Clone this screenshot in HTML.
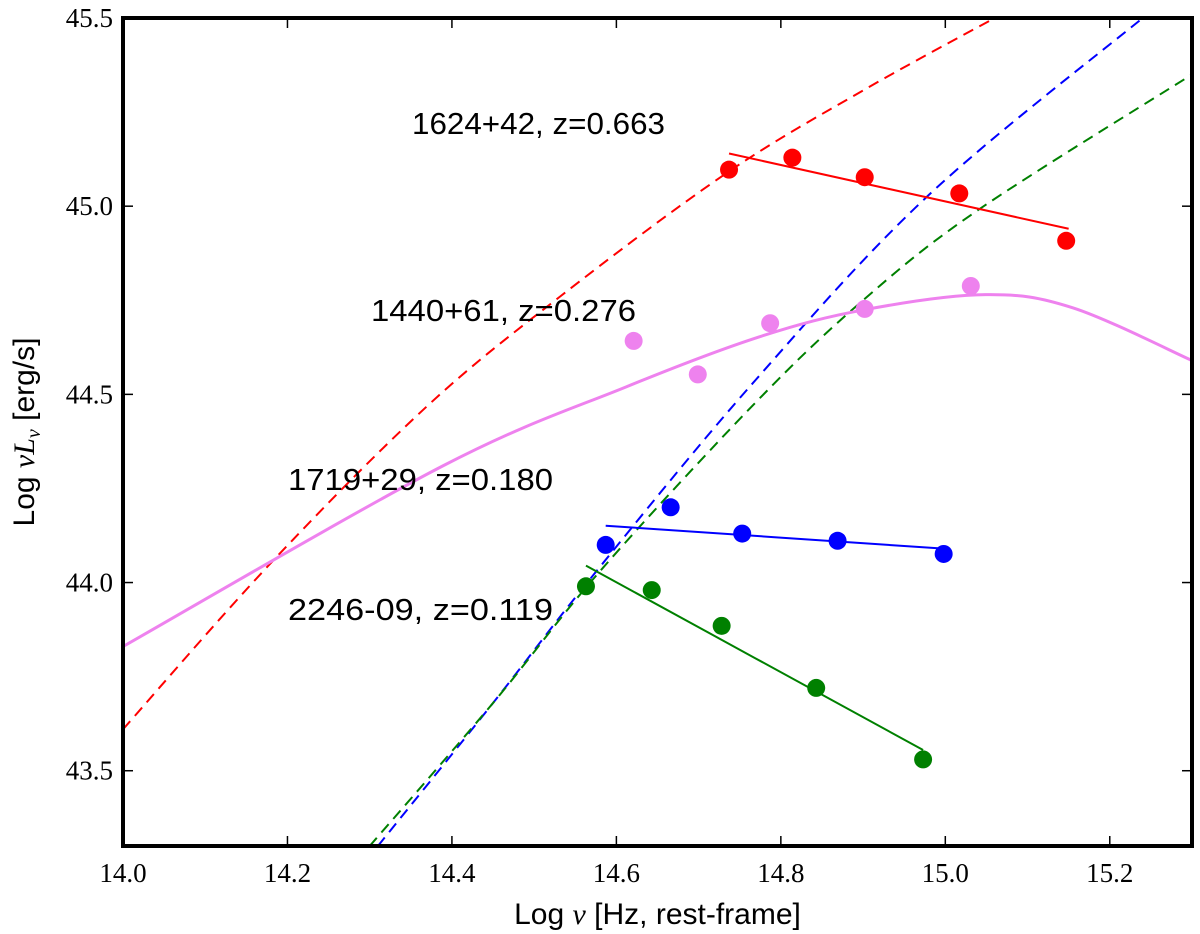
<!DOCTYPE html>
<html><head><meta charset="utf-8"><style>body{margin:0;background:#fff}svg{display:block}</style></head>
<body>
<svg id="c" width="1200" height="934" xmlns="http://www.w3.org/2000/svg"></svg>
<script>
const xTicks=[14.0,14.2,14.4,14.6,14.8,15.0,15.2];
const yTicks=[43.5,44.0,44.5,45.0,45.5];
const redPtsX=[14.737,14.814,14.902,15.017,15.147];
const redPtsY=[45.097,45.129,45.077,45.034,44.908];
const redFitX=[14.737,15.15];
const redFitY=[45.14,44.94];
const violetPtsX=[14.621,14.699,14.787,14.902,15.031];
const violetPtsY=[44.642,44.553,44.689,44.727,44.788];
const violetCurveX=[14.0,14.389,14.612,14.774,14.902,15.049,15.155,15.3];
const violetCurveY=[43.83,44.31,44.52,44.653,44.725,44.765,44.73,44.59];
const bluePtsX=[14.587,14.666,14.753,14.869,14.998];
const bluePtsY=[44.10,44.20,44.13,44.111,44.076];
const blueFitX=[14.587,14.998];
const blueFitY=[44.151,44.09];
const greenPtsX=[14.563,14.643,14.728,14.843,14.973];
const greenPtsY=[43.99,43.98,43.885,43.72,43.53];
const greenFitX=[14.563,14.973];
const greenFitY=[44.045,43.555];
const redDashX=[14.0,14.179,14.369,14.531,14.734,14.902,15.06];
const redDashY=[43.61,44.05,44.467,44.759,45.088,45.31,45.5];
const blueDashX=[14.31,14.45,14.572,14.766,14.98,15.24];
const blueDashY=[43.3,43.68,44.02,44.53,45.03,45.5];
const greenDashX=[14.3,14.45,14.58,14.77,14.9,15.04,15.3];
const greenDashY=[43.3,43.68,44.03,44.48,44.75,44.99,45.35];
const labels=["1624+42, z=0.663","1440+61, z=0.276","1719+29, z=0.180","2246-09, z=0.119"];

const L=123,R=1192,T=18,B=846,X0=14.0,X1=15.3,Y0=43.3,Y1=45.5;
const sx=v=>L+(v-X0)/(X1-X0)*(R-L);
const sy=v=>B-(v-Y0)/(Y1-Y0)*(B-T);
const svg=document.getElementById('c');
const NS='http://www.w3.org/2000/svg';
function mk(t,a,p){const e=document.createElementNS(NS,t);for(const k in a)e.setAttribute(k,a[k]);(p||svg).appendChild(e);return e;}
const defs=mk('defs',{});const cp=mk('clipPath',{id:'clip'},defs);mk('rect',{x:L,y:T,width:R-L,height:B-T},cp);
const g=mk('g',{'clip-path':'url(#clip)'});


function smooth(xs,ys){const P=xs.map((x,i)=>[sx(x),sy(ys[i])]);let d='M'+P[0][0]+','+P[0][1];
 for(let i=0;i<P.length-1;i++){const p0=P[Math.max(i-1,0)],p1=P[i],p2=P[i+1],p3=P[Math.min(i+2,P.length-1)];
  const c1=[p1[0]+(p2[0]-p0[0])/6,p1[1]+(p2[1]-p0[1])/6],c2=[p2[0]-(p3[0]-p1[0])/6,p2[1]-(p3[1]-p1[1])/6];
  d+=' C'+c1[0]+','+c1[1]+' '+c2[0]+','+c2[1]+' '+p2[0]+','+p2[1];}return d;}
function line(xs,ys,col,dash,name,w){const d=smooth(xs,ys);
 const p=mk('path',{d:d,fill:'none',stroke:col,'stroke-width':w||2,'stroke-dasharray':dash||'none'},g);
 
 }
function pts(xs,ys,col,name){xs.forEach((x,i)=>{const c=mk('circle',{cx:sx(x),cy:sy(ys[i]),r:9,fill:col},g);
 
 });}
line(redDashX,redDashY,'#ff0000','11,7','red-dashed-model');
line(blueDashX,blueDashY,'#0000ff','11,7','blue-dashed-model');
line(greenDashX,greenDashY,'#008000','11,7','green-dashed-model');
line(violetCurveX,violetCurveY,'#ee82ee',null,'violet-curve',3);
line(redFitX,redFitY,'#ff0000',null,'red-fit-line');
line(blueFitX,blueFitY,'#0000ff',null,'blue-fit-line');
line(greenFitX,greenFitY,'#008000',null,'green-fit-line');
pts(redPtsX,redPtsY,'#ff0000','red-point');
pts(violetPtsX,violetPtsY,'#ee82ee','violet-point');
pts(bluePtsX,bluePtsY,'#0000ff','blue-point');
pts(greenPtsX,greenPtsY,'#008000','green-point');
const lp=[[412,134],[371,321],[288,490],[288,620]];
labels.forEach((t,i)=>{const e=mk('text',{x:lp[i][0],y:lp[i][1],'font-family':'Liberation Sans, sans-serif','font-size':31,'textLength':i==0?253:265,'lengthAdjust':'spacingAndGlyphs',fill:'#000'});e.textContent=t;
 
 });
const fr=mk('rect',{x:L,y:T,width:R-L,height:B-T,fill:'none',stroke:'#000','stroke-width':4});


xTicks.forEach(v=>{const x=sx(v);mk('line',{x1:x,x2:x,y1:B,y2:B-10,stroke:'#000','stroke-width':1.5});mk('line',{x1:x,x2:x,y1:T,y2:T+10,stroke:'#000','stroke-width':1.5});
 const e=mk('text',{x:x,y:B+36,'text-anchor':'middle','font-family':'Liberation Serif, serif','font-size':27});e.textContent=v.toFixed(1);
 
 });
yTicks.forEach(v=>{const y=sy(v);mk('line',{x1:L,x2:L+10,y1:y,y2:y,stroke:'#000','stroke-width':1.5});mk('line',{x1:R,x2:R-10,y1:y,y2:y,stroke:'#000','stroke-width':1.5});
 const e=mk('text',{x:L-10,y:y+9,'text-anchor':'end','font-family':'Liberation Serif, serif','font-size':27});e.textContent=v.toFixed(1);
 
 });
const xt=mk('text',{x:(L+R)/2,y:924,'text-anchor':'middle','font-family':'Liberation Sans, sans-serif','font-size':30});
xt.innerHTML='Log <tspan font-family="Liberation Serif, serif" font-style="italic">ν</tspan> [Hz, rest-frame]';


const yt=mk('text',{x:0,y:0,'text-anchor':'middle','font-family':'Liberation Sans, sans-serif','font-size':30,transform:'translate(34,'+((T+B)/2)+') rotate(-90)'});
yt.innerHTML='Log <tspan font-family="Liberation Serif, serif" font-style="italic">νL</tspan><tspan font-family="Liberation Serif, serif" font-style="italic" font-size="20" dy="6">ν</tspan><tspan dy="-6"> [erg/s]</tspan>';


</script>
</body></html>
